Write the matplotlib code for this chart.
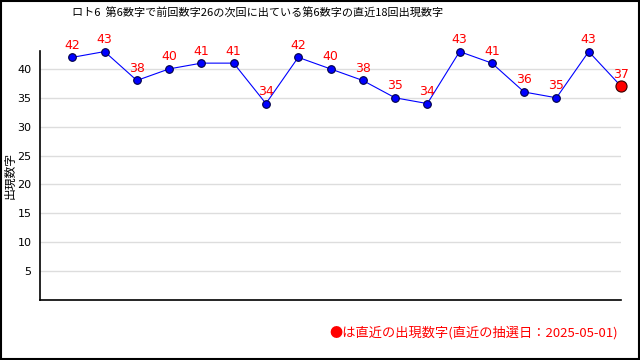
import matplotlib
matplotlib.use("Agg")
import matplotlib.pyplot as plt
from matplotlib.patches import Rectangle

plt.rcParams['font.family'] = ['Noto Sans CJK JP', 'DejaVu Sans']

title = "ロト6  第6数字で前回数字26の次回に出ている第6数字の直近18回出現数字"
values = [42, 43, 38, 40, 41, 41, 34, 42, 40, 38, 35, 34, 43, 41, 36, 35, 43, 37]
yticks = [5, 10, 15, 20, 25, 30, 35, 40]
ylabel = "出現数字"
note = "●は直近の出現数字(直近の抽選日：2025-05-01)"

fig = plt.figure(figsize=(6.4, 3.6), dpi=100)
ax = fig.add_axes([40/640, 1-300/360, 581/640, 249/360])
x = list(range(1, len(values)+1))
ax.plot(x, values, color='blue', lw=0.8, marker='o', markersize=5.5,
        markerfacecolor='blue', markeredgecolor='#000044', markeredgewidth=0.8, clip_on=False, zorder=3)
ax.plot([x[-1]], [values[-1]], marker='o', markersize=8, color='red',
        markeredgecolor='#330000', markeredgewidth=0.8, clip_on=False, zorder=4)
for xi, v in zip(x, values):
    ax.annotate(str(v), (xi, v), xytext=(0, 4), textcoords='offset points',
                ha='center', va='bottom', color='red', fontsize=9, family='DejaVu Sans')
ax.set_xlim(0, len(values))
ax.set_ylim(0, 43.1)
ax.set_yticks(yticks)
ax.set_yticklabels([str(t) for t in yticks], fontsize=8, family='DejaVu Sans')
ax.set_xticks([])
ax.tick_params(axis='y', length=0, pad=6)
ax.grid(axis='y', color='#dddddd', lw=1)
ax.set_axisbelow(True)
for s in ['top', 'right']:
    ax.spines[s].set_visible(False)
for s in ['left', 'bottom']:
    ax.spines[s].set_linewidth(1.2)
ax.set_ylabel(ylabel, fontsize=8.5)
ax.yaxis.set_label_coords(-0.040, 0.5)

fig.text(258/640, 1-13/360, title, ha='center', va='center', fontsize=8)
fig.text(0.965, 1-333/360, note, ha='right', va='center', fontsize=9.5, color='red')
fig.add_artist(Rectangle((0.001, 0.002), 0.997, 0.996, transform=fig.transFigure,
                         fill=False, edgecolor='black', lw=1.5))
fig.savefig('out.png', dpi=100)
